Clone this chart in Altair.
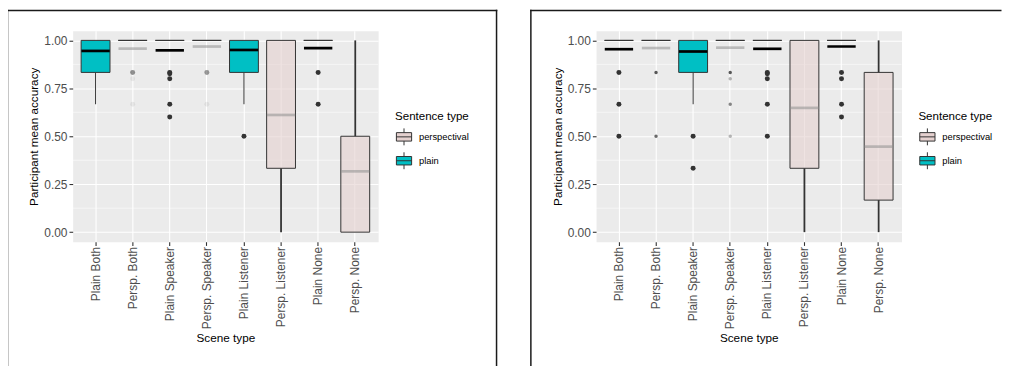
import altair as alt
import pandas as pd

# ---------------- data ----------------
scenes = ["Plain Both", "Persp. Both", "Plain Speaker", "Persp. Speaker",
          "Plain Listener", "Persp. Listener", "Plain None", "Persp. None"]
sentence = ["plain", "perspectival", "plain", "perspectival",
            "plain", "perspectival", "plain", "perspectival"]

# left panel
a_lower = [0.667, 1.0, 1.0, 1.0, 0.667, 0.0, 1.0, 0.0]
a_q1 = [0.833, 1.0, 1.0, 1.0, 0.833, 0.333, 1.0, 0.0]
a_q3 = [1.0, 1.0, 1.0, 1.0, 1.0, 1.0, 1.0, 0.5]
a_upper = [1.0, 1.0, 1.0, 1.0, 1.0, 1.0, 1.0, 1.0]
a_mean = [0.945, 0.957, 0.948, 0.968, 0.950, 0.611, 0.960, 0.317]
a_out_scene = ["Persp. Both", "Persp. Both", "Persp. Both",
               "Plain Speaker", "Plain Speaker", "Plain Speaker", "Plain Speaker", "Plain Speaker",
               "Persp. Speaker", "Persp. Speaker",
               "Plain Listener", "Plain None", "Plain None"]
a_out_value = [0.833, 0.8, 0.667,
               0.833, 0.826, 0.8, 0.667, 0.6,
               0.833, 0.667,
               0.5, 0.833, 0.667]
a_out_n = [9, 1, 1,
           1, 1, 1, 2, 1,
           8, 1,
           1, 1, 1]

# right panel
b_lower = [1.0, 1.0, 0.667, 1.0, 1.0, 0.0, 1.0, 0.0]
b_q1 = [1.0, 1.0, 0.833, 1.0, 1.0, 0.333, 1.0, 0.167]
b_q3 = [1.0, 1.0, 1.0, 1.0, 1.0, 1.0, 1.0, 0.833]
b_upper = [1.0, 1.0, 1.0, 1.0, 1.0, 1.0, 1.0, 1.0]
b_mean = [0.954, 0.960, 0.942, 0.962, 0.956, 0.648, 0.968, 0.446]
b_out_scene = ["Plain Both", "Plain Both", "Plain Both",
               "Persp. Both", "Persp. Both",
               "Plain Speaker", "Plain Speaker",
               "Persp. Speaker", "Persp. Speaker", "Persp. Speaker", "Persp. Speaker",
               "Plain Listener", "Plain Listener", "Plain Listener", "Plain Listener", "Plain Listener",
               "Plain None", "Plain None", "Plain None", "Plain None"]
b_out_value = [0.833, 0.667, 0.5,
               0.833, 0.5,
               0.5, 0.333,
               0.833, 0.8, 0.667, 0.5,
               0.833, 0.826, 0.8, 0.667, 0.5,
               0.833, 0.8, 0.667, 0.6]
b_out_n = [1, 1, 1,
           4, 3,
           1, 1,
           4, 1, 2, 1,
           1, 1, 1, 1, 1,
           1, 1, 1, 1]

y_ticks = [0.0, 0.25, 0.5, 0.75, 1.0]
y_minor = [0.125, 0.375, 0.625, 0.875]

FONT = "Liberation Sans"
KEY_PATH = "M-0.9,-0.5H0.9V0.5H-0.9Z M0,-0.5V-1 M0,0.5V1 M-0.9,0H0.9"


def panel(lower, q1, q3, upper, mean, o_scene, o_val, o_n,
          point_alpha, persp_size, top_right, right_edge):
    boxes = pd.DataFrame({"scene": scenes, "type": sentence, "lower": lower,
                          "q1": q1, "q3": q3, "upper": upper, "mean": mean})
    tmap = dict(zip(scenes, sentence))
    outs = pd.DataFrame({"scene": o_scene, "value": o_val, "n": o_n})
    outs["type"] = outs["scene"].map(tmap)
    minor = pd.DataFrame({"y": y_minor})
    frame = pd.DataFrame({"k": [0]})

    xs = alt.Scale(domain=scenes, paddingInner=0, paddingOuter=0.117)
    xa = alt.Axis(title="Scene type", labelAngle=-90, grid=True, labelPadding=1,
                  titlePadding=4)
    ys = alt.Scale(domain=[-0.05, 1.05], nice=False, zero=False)
    ya = alt.Axis(title="Participant mean accuracy", values=y_ticks, format=".2f",
                  titlePadding=4, labelPadding=2)

    def X():
        return alt.X("scene:N", sort=scenes, scale=xs, axis=xa)

    def Y(f):
        return alt.Y(f + ":Q", scale=ys, axis=ya)

    leg = alt.Legend(title="Sentence type", orient="none", legendX=324, legendY=81,
                     symbolType=KEY_PATH, symbolSize=289, symbolStrokeColor="#333333",
                     symbolStrokeWidth=1, labelFontSize=9.4, titleFontSize=11.6,
                     titleFontWeight="normal", titleColor="black", labelColor="black",
                     rowPadding=2, titlePadding=5, labelOffset=6,
                     labelFont=FONT, titleFont=FONT)

    base = alt.Chart(boxes)

    grid_minor = alt.Chart(minor).mark_rule(color="white", strokeWidth=0.55).encode(
        y=Y("y"))

    whisk_lo = base.mark_rule(color="#333333").transform_calculate(
        sw="datum.type == 'plain' ? 1 : 1.8").encode(
        x=X(), y=Y("lower"), y2="q1:Q", strokeWidth=alt.StrokeWidth("sw:Q", scale=None))
    whisk_hi = base.mark_rule(color="#333333").transform_calculate(
        sw="datum.type == 'plain' ? 1 : 1.8").encode(
        x=X(), y=Y("q3"), y2="upper:Q", strokeWidth=alt.StrokeWidth("sw:Q", scale=None))

    box = base.mark_bar(size=29, stroke="#333333", strokeWidth=1).transform_calculate(
        fo="datum.type == 'plain' ? 1 : 0.6").encode(
        x=X(), y=Y("q1"), y2="q3:Q",
        fill=alt.Fill("type:N", scale=alt.Scale(domain=["perspectival", "plain"],
                                                range=["#E5D1CF", "#00BFC4"]), legend=leg),
        fillOpacity=alt.FillOpacity("fo:Q", scale=None))

    mean_tick = base.mark_tick(orient="horizontal", size=28.5, thickness=2.7).transform_calculate(
        tc="datum.type == 'plain' ? '#000000' : '#8F8F8F'",
        to="datum.type == 'plain' ? 1 : 0.55").encode(
        x=X(), y=Y("mean"),
        color=alt.Color("tc:N", scale=None),
        opacity=alt.Opacity("to:Q", scale=None))

    pts = alt.Chart(outs).mark_circle(color="#333333").transform_calculate(
        al=f"datum.type == 'plain' ? 1 : 1 - pow({1 - point_alpha}, datum.n)",
        sz=f"datum.type == 'plain' ? 25 : {persp_size}").encode(
        x=X(), y=Y("value"),
        opacity=alt.Opacity("al:Q", scale=None),
        size=alt.Size("sz:Q", scale=None))

    fc = "#1A1A1A"
    fw = 1.5
    f_left = alt.Chart(frame).mark_rule(color=fc, strokeWidth=fw).encode(
        x=alt.value(-65.5), y=alt.value(-21.25), y2=alt.value(337))
    f_top = alt.Chart(frame).mark_rule(color=fc, strokeWidth=fw).encode(
        x=alt.value(-66.25), x2=alt.value(top_right), y=alt.value(-20.5))
    layers = [grid_minor, whisk_lo, whisk_hi, box, mean_tick, pts, f_left, f_top]
    if right_edge:
        f_right = alt.Chart(frame).mark_rule(color=fc, strokeWidth=fw).encode(
            x=alt.value(top_right - 0.75), y=alt.value(-21.25), y2=alt.value(337))
        layers.append(f_right)
    return alt.layer(*layers).properties(width=307, height=212)


left = panel(a_lower, a_q1, a_q3, a_upper, a_mean, a_out_scene, a_out_value, a_out_n,
             0.08, 25, 426.75, True)
right = panel(b_lower, b_q1, b_q3, b_upper, b_mean, b_out_scene, b_out_value, b_out_n,
              0.35, 12, 407.5, False)

chart = alt.hconcat(left, right, spacing=30).resolve_scale(
    fill="independent", x="independent", y="independent"
).resolve_legend(fill="independent").properties(
    padding={"left": -3, "top": -1, "right": 0, "bottom": 0}
).configure(font=FONT).configure_view(fill="#EBEBEB", stroke="transparent").configure_axis(
    domain=False, tickColor="#333333", tickSize=3.7, tickWidth=1.1,
    gridColor="white", gridWidth=1.1, labelColor="#4D4D4D", labelFontSize=12,
    titleFontSize=11.8, titleColor="black", titleFontWeight="normal",
    labelFont=FONT, titleFont=FONT)

chart.save("out.html", embed_options={"renderer": "svg", "actions": False})
